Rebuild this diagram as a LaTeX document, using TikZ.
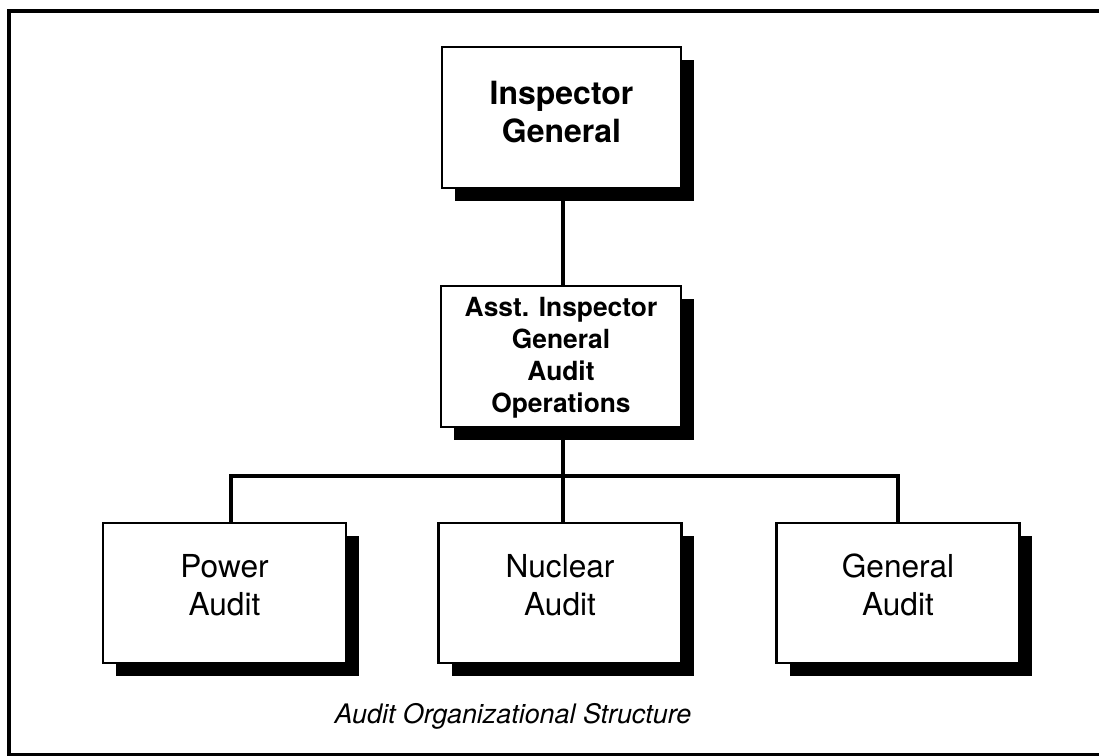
\documentclass[tikz,border=0pt]{standalone}
\usepackage{fontspec}
\setmainfont{TeX Gyre Heros}
\usetikzlibrary{shadows}

\begin{document}
\begin{tikzpicture}[x=0.02cm, y=-0.02cm,
  box/.style={rectangle, draw=black, fill=white, line width=1.5pt, minimum width=4.86cm, minimum height=2.8cm, drop shadow={shadow xshift=0.26cm, shadow yshift=-0.26cm, fill=black, opacity=1}},
  boxtext/.style={align=center, font=\fontsize{18}{21.6}\selectfont},
  bosstext/.style={align=center, font=\fontsize{18.2}{21.6}\selectfont\bfseries},
  assttext/.style={align=center, font=\fontsize{15}{18.2}\selectfont\bfseries},
  link/.style={line width=1.9pt},
]
\useasboundingbox (0,0) rectangle (1099,756);
% Frame
\draw[line width=2pt] (1099,11) -- (9,11) -- (9,755) -- (1099,755);

% Top
\node[box, minimum width=4.78cm, minimum height=2.82cm] (ig) at (561.5,117.5) {};
\node[bosstext] (igtext) at (561.5,112) {Inspector\\General};

% Middle
\node[box, minimum width=4.8cm, minimum height=2.82cm] (aig) at (561,356.5) {};
\node[assttext] (aigtext) at (561,358) {Asst. Inspector\\General\\Audit\\Operations};

% Bottom row
\node[box] (pa) at (224.5,593) {};
\node[boxtext] (patext) at (224.5,585) {Power\\Audit};
\node[box] (na) at (560,593) {};
\node[boxtext] (natext) at (560,585) {Nuclear\\Audit};
\node[box] (ga) at (898,593) {};
\node[boxtext] (gatext) at (898,585) {General\\Audit};

% Links
\coordinate (bus) at (563,476);
\draw[link] (ig.south -| bus) -- (aig.north -| bus);
\draw[link] (aig.south -| bus) -- (bus);
\draw[link] ([xshift=0.13cm]pa.north) |- (bus) -| (ga.north);
\draw[link] (bus) -- (na.north -| bus);

% Caption
\node[font=\fontsize{15.3}{18}\selectfont\itshape] (caption) at (513,716) {Audit Organizational Structure};
\end{tikzpicture}
\end{document}
